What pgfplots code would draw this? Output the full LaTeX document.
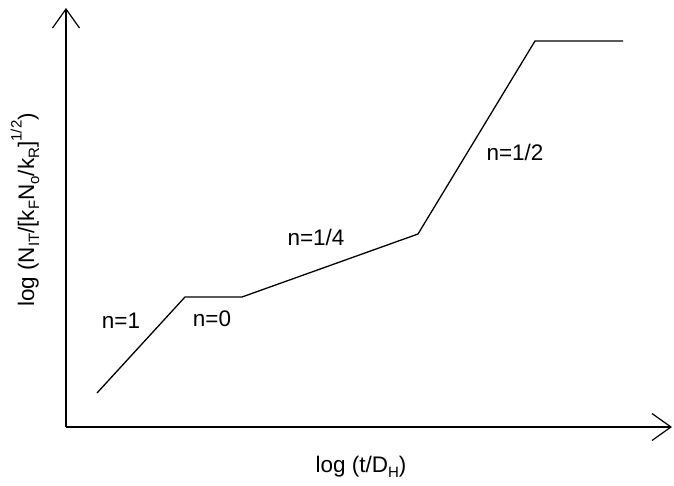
\documentclass[border=0pt]{standalone}
\usepackage{fontspec}
\setmainfont{Liberation Sans}
\usepackage{pgfplots}
\pgfplotsset{compat=1.18}
\usetikzlibrary{arrows.meta}
\newcommand{\sub}[1]{\raisebox{-0.22em}{\fontsize{15}{15}\selectfont #1}}
\newcommand{\sups}[1]{\raisebox{0.55em}{\fontsize{15}{15}\selectfont #1}}
\begin{document}
\begin{tikzpicture}[lab/.style={font=\fontsize{22.5}{26}\selectfont}]
\useasboundingbox (0pt,0pt) rectangle (674pt,485pt);
\begin{axis}[
  at={(66pt,58pt)}, anchor=south west,
  scale only axis, width=606pt, height=419pt,
  xmin=66, xmax=672, ymin=58, ymax=477,
  axis lines=left,
  axis line style={line width=1.2pt, -{Straight Barb[length=19pt,width=27pt,line width=1.2pt]}},
  xtick=\empty, ytick=\empty,
  clip=false,
]
\addplot[black, line width=1.3pt] coordinates {(97,92) (185,188) (242,188) (418,251) (535,444) (623,444)};
\node[lab] at (axis cs:121,164) {n=1};
\node[lab] at (axis cs:212,166) {n=0};
\node[lab] at (axis cs:316,248) {n=1/4};
\node[lab] at (axis cs:515,333) {n=1/2};
\node[lab] at (axis cs:361,18) {log (t/D\sub{H})};
\node[lab,rotate=90] at (axis cs:25,275) {log (N\sub{IT}/[k\sub{F}N\sub{o}/k\sub{R}]\sups{1/2})};
\end{axis}
\end{tikzpicture}
\end{document}
